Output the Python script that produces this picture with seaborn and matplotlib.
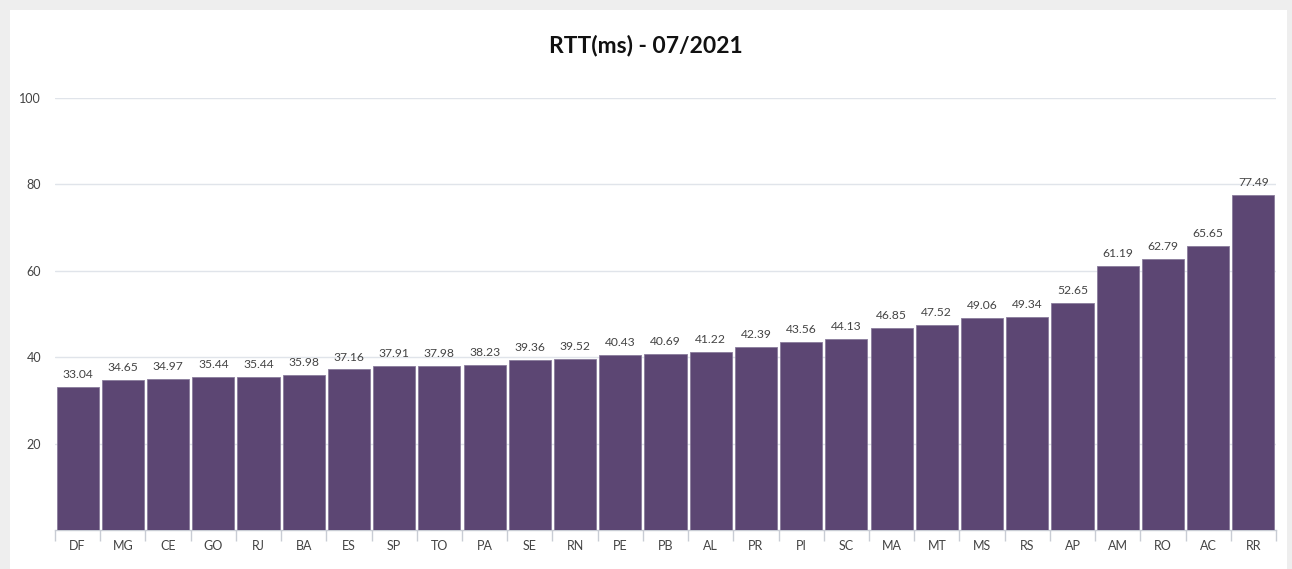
import matplotlib
matplotlib.use("Agg")
import matplotlib.pyplot as plt
import pandas as pd
import seaborn as sns
from matplotlib.patches import Rectangle

# Data
states = ["DF", "MG", "CE", "GO", "RJ", "BA", "ES", "SP", "TO", "PA", "SE", "RN", "PE", "PB",
          "AL", "PR", "PI", "SC", "MA", "MT", "MS", "RS", "AP", "AM", "RO", "AC", "RR"]
rtt = [33.04, 34.65, 34.97, 35.44, 35.44, 35.98, 37.16, 37.91, 37.98, 38.23, 39.36, 39.52, 40.43, 40.69,
       41.22, 42.39, 43.56, 44.13, 46.85, 47.52, 49.06, 49.34, 52.65, 61.19, 62.79, 65.65, 77.49]
y_ticks = [20, 40, 60, 80, 100]

df = pd.DataFrame({"UF": states, "RTT": rtt})

sns.set_style("white")
plt.rcParams["font.family"] = ["Lato", "DejaVu Sans"]

fig = plt.figure(figsize=(12.92, 5.69), dpi=100)
fig.patch.set_facecolor("#eeeeee")
# white panel inside the grey frame
fig.add_artist(Rectangle((10 / 1292, 0), 1277 / 1292, 559 / 569,
                         transform=fig.transFigure, facecolor="white", edgecolor="none", zorder=0))

ax = fig.add_axes([55 / 1292, 39 / 569, 1221 / 1292, 432 / 569])
ax.set_facecolor("none")

sns.barplot(data=df, x="UF", y="RTT", color="#5c4673", saturation=1, width=0.93,
            edgecolor="#8a7c9c", linewidth=0.6, ax=ax, zorder=3)

for i, v in enumerate(rtt):
    ax.text(i, v + 1.6, f"{v:.2f}", ha="center", va="bottom", fontsize=8.7, color="#444444")

ax.set_ylim(0, 100)
ax.set_xlim(-0.5, len(states) - 0.5)
ax.set_yticks(y_ticks)
ax.yaxis.grid(True, color="#e0e4ea", linewidth=1, zorder=0)
ax.set_axisbelow(True)

ax.set_xlabel("")
ax.set_ylabel("")
for s in ["top", "right", "left"]:
    ax.spines[s].set_visible(False)
ax.spines["bottom"].set_color("#c8ccd4")
ax.spines["bottom"].set_linewidth(1)

ax.tick_params(axis="y", length=0, pad=10, labelsize=9, labelcolor="#444444")
ax.tick_params(axis="x", which="major", bottom=True, length=0, pad=7, labelsize=9, labelcolor="#444444")
ax.set_xticks([i - 0.5 for i in range(len(states) + 1)], minor=True)
ax.tick_params(axis="x", which="minor", bottom=True, length=8, width=1, color="#c8ccd4")

fig.text(0.5, 1 - 45 / 569, "RTT(ms) - 07/2021", ha="center", va="center",
         fontsize=16.5, fontweight="bold", color="#111111")

fig.savefig("out.png", dpi=100, facecolor=fig.get_facecolor())
